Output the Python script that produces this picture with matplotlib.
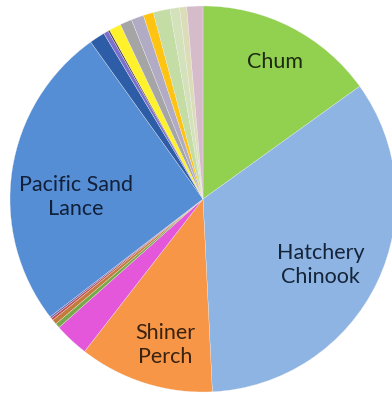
import matplotlib.pyplot as plt

# Share of catch by species (percent), clockwise from 12 o'clock
species = ["Chum", "Hatchery Chinook", "Shiner Perch", "Surf Smelt", "Starry Flounder",
           "Staghorn Sculpin", "Red Rock Crab", "Tubesnout", "Pacific Sand Lance",
           "Pacific Herring", "Northern Anchovy", "Snake Prickleback", "Threespine Stickleback",
           "Wild Chinook", "Coho", "Crescent Gunnel", "Saddleback Gunnel", "Pink",
           "Bay Pipefish", "Other"]
share = [15.1, 34.2, 11.3, 2.9, 0.4,
         0.4, 0.2, 0.15, 25.6,
         1.3, 0.4, 0.15, 1.0,
         1.0, 1.05, 0.85, 1.4, 0.8,
         0.6, 1.35]
colors = ["#92D050", "#8DB4E2", "#F79646", "#E456DA", "#77A84A",
          "#C47A3A", "#C0504D", "#7E5EA8", "#558ED5",
          "#2D5DA6", "#7A6FCF", "#5A4A3A", "#FFF22A",
          "#A5A5A5", "#B2ABC4", "#FFC312", "#C3DDA5", "#D3E2BA",
          "#DCDDB8", "#D6BCCB"]

# Labelled slices and where their names sit inside the pie
label_names = ["Chum", "Hatchery\nChinook", "Shiner\nPerch", "Pacific Sand\nLance"]
label_x = [0.373, 0.611, -0.197, -0.658]
label_y = [0.710, -0.342, -0.756, 0.010]
label_colors = ["#1E2A12", "#16243A", "#3A2210", "#12203A"]

fig = plt.figure(figsize=(3.92, 3.96), dpi=100)
ax = fig.add_axes([0, 0, 1, 1])
ax.pie(share, colors=colors, startangle=90, counterclock=False,
       wedgeprops=dict(edgecolor="#F4F4F4", linewidth=0.2))

for name, x, y, c in zip(label_names, label_x, label_y, label_colors):
    ax.text(x, y, name, ha="center", va="center", color=c, fontsize=15.5,
            family="Lato", linespacing=1.2)

ax.set_xlim(-203 / 193, 189 / 193)
ax.set_ylim(-197 / 193, 199 / 193)
ax.set_aspect("auto")
ax.axis("off")

fig.savefig("out.png", dpi=100, facecolor="white")
